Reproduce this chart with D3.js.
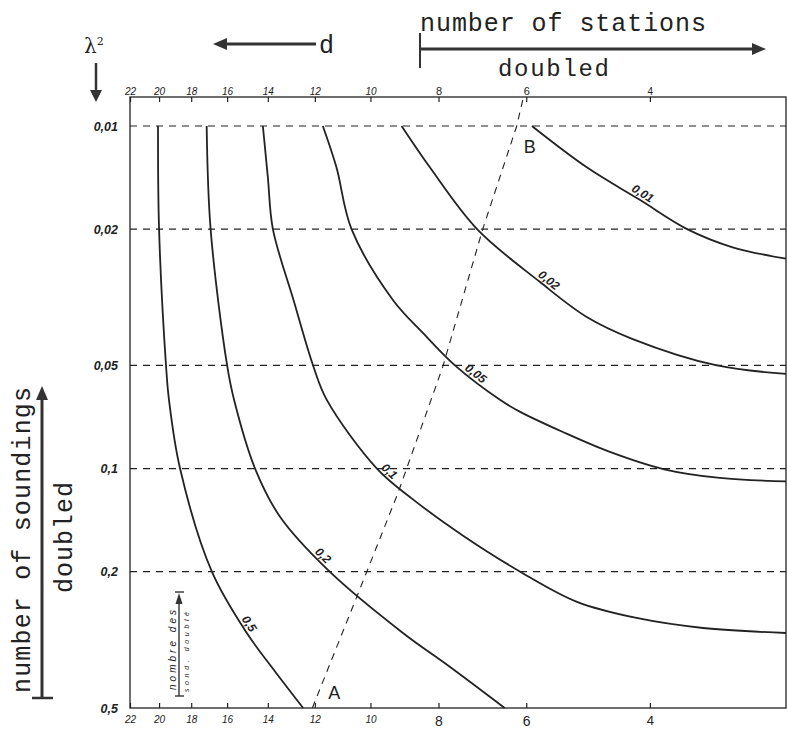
<!DOCTYPE html>
<html>
<head>
<meta charset="utf-8">
<script src="https://cdn.jsdelivr.net/npm/d3@7"></script>
<style>
  body { margin: 0; background: #fff; }
  svg { display: block; }
</style>
</head>
<body>
<div id="main"></div>
<script>
// axis values
const dTicks = [22, 20, 18, 16, 14, 12, 10, 8, 6, 4];
const lambdaTicks = [0.01, 0.02, 0.05, 0.1, 0.2, 0.5];
const lambdaLabels = ['0,01', '0,02', '0,05', '0,1', '0,2', '0,5'];

// curves as [d, lambda^2]
const curveNames = ['0,5', '0,2', '0,1', '0,05', '0,02', '0,01'];
const curve05 = [[20.07, 0.01], [20.0, 0.02], [19.55, 0.05], [19.36, 0.063], [18.67, 0.1], [16.82, 0.2],
                 [15.0, 0.302], [13.69, 0.39], [12.47, 0.5]];
const curve02 = [[17.11, 0.01], [16.89, 0.02], [16.0, 0.05], [15.64, 0.063], [14.6, 0.1], [13.46, 0.138],
                 [11.43, 0.2], [8.99, 0.302], [7.71, 0.379], [6.44, 0.5]];
const curve01 = [[14.23, 0.01], [14.0, 0.0141], [13.77, 0.02], [12.87, 0.0322], [12.07, 0.05], [11.54, 0.063],
                 [9.79, 0.1], [8.70, 0.123], [7.38, 0.157], [6.12, 0.2], [5.08, 0.245], [4.18, 0.273],
                 [3.36, 0.292], [2.56, 0.302]];
const curve005 = [[11.69, 0.01], [11.18, 0.0132], [10.64, 0.02], [9.29, 0.0322], [8.42, 0.0402], [7.58, 0.05],
                  [6.54, 0.063], [6.12, 0.0683], [5.32, 0.0782], [4.56, 0.0894], [3.83, 0.1003], [3.18, 0.1065],
                  [2.56, 0.109]];
const curve002 = [[9.03, 0.01], [8.23, 0.0132], [7.05, 0.02], [5.74, 0.0285], [4.92, 0.0361], [4.24, 0.0418],
                  [3.21, 0.05], [2.56, 0.0529]];
const curve001 = [[5.89, 0.01], [4.92, 0.0132], [4.14, 0.0164], [3.54, 0.02], [3.05, 0.0226], [2.56, 0.0244]];
const curveLabelD = [15.17, 11.87, 9.54, 7.18, 5.65, 4.14];

// dashed line A-B
const abLine = [[12.10, 0.5], [10.12, 0.2], [9.14, 0.118], [7.89, 0.0505], [6.92, 0.02], [6.19, 0.01], [6.07, 0.0084]];

const curves = [curve05, curve02, curve01, curve005, curve002, curve001];

const width = 787, height = 732;
const plotLeft = 130, plotRight = 786, plotTop = 97, plotBottom = 708;
const ink = '#222';
const hand = '"Liberation Sans", "DejaVu Sans", sans-serif';
const mono = '"Liberation Mono", "DejaVu Sans Mono", monospace';

let svg = d3.select('#main')
    .append('svg')
        .attr('width', width)
        .attr('height', height);

const x = d3.scaleLog().domain([22, 2.56]).range([plotLeft, plotRight]);
const y = d3.scaleLog().domain([0.01, 0.5]).range([126, plotBottom]);

// frame
svg.append('rect')
    .attr('x', plotLeft).attr('y', plotTop)
    .attr('width', plotRight - plotLeft).attr('height', plotBottom - plotTop)
    .attr('fill', 'none').attr('stroke', ink).attr('stroke-width', 1.3);

// dashed lambda lines
svg.selectAll('.grid')
    .data(lambdaTicks.filter(v => v < 0.5))
    .enter()
    .append('line')
        .attr('class', 'grid')
        .attr('x1', plotLeft).attr('x2', plotRight)
        .attr('y1', d => y(d)).attr('y2', d => y(d))
        .attr('stroke', ink).attr('stroke-width', 1.2)
        .attr('stroke-dasharray', '7,6');

// d axes, top and bottom, ticks inside
const tickFont = (d, big) => d >= 10 ? 10 : (d === 4 ? big - 1 : big);
const tickStyle = d => d >= 10 ? 'italic' : 'normal';

const topAxis = svg.append('g')
    .attr('transform', `translate(0,${plotTop})`)
    .call(d3.axisTop(x).tickValues(dTicks).tickSize(-5).tickSizeOuter(0).tickPadding(2).tickFormat(d3.format('d')));
const bottomAxis = svg.append('g')
    .attr('transform', `translate(0,${plotBottom})`)
    .call(d3.axisBottom(x).tickValues(dTicks).tickSize(-5).tickSizeOuter(0).tickPadding(8).tickFormat(d3.format('d')));

topAxis.selectAll('.tick text').style('font-size', d => tickFont(d, 11) + 'px');
bottomAxis.selectAll('.tick text').style('font-size', d => tickFont(d, 14) + 'px');
[topAxis, bottomAxis].forEach(g => {
    g.select('.domain').remove();
    g.selectAll('.tick line').attr('stroke', ink).attr('stroke-width', 1.2);
    g.selectAll('.tick text')
        .attr('fill', ink)
        .style('font-family', hand)
        .style('font-style', tickStyle);
});

// lambda axis labels
const leftAxis = svg.append('g')
    .attr('transform', `translate(${plotLeft},0)`)
    .call(d3.axisLeft(y).tickValues(lambdaTicks).tickSize(0).tickPadding(12)
        .tickFormat((d, i) => lambdaLabels[i]));
leftAxis.select('.domain').remove();
leftAxis.selectAll('.tick text')
    .attr('fill', ink)
    .style('font-family', hand)
    .style('font-size', '12.5px')
    .style('font-style', 'italic')
    .style('font-weight', 'bold');

// curves
const line = d3.line()
    .x(d => x(d[0]))
    .y(d => y(d[1]))
    .curve(d3.curveCatmullRom.alpha(0.5));

const paths = svg.selectAll('.curve')
    .data(curves)
    .enter()
    .append('path')
        .attr('class', 'curve')
        .attr('d', line)
        .attr('fill', 'none')
        .attr('stroke', ink)
        .attr('stroke-width', 1.8);

// curve labels along the curves
paths.each(function(c, i) {
    const node = this;
    const total = node.getTotalLength();
    const tx = x(curveLabelD[i]);
    let best = 0, bestDist = Infinity;
    for (let s = 0; s <= total; s += 1) {
        const p = node.getPointAtLength(s);
        const dist = Math.abs(p.x - tx);
        if (dist < bestDist) { bestDist = dist; best = s; }
    }
    const p = node.getPointAtLength(best);
    const p0 = node.getPointAtLength(Math.max(0, best - 4));
    const p1 = node.getPointAtLength(Math.min(total, best + 4));
    const ang = Math.atan2(p1.y - p0.y, p1.x - p0.x);
    const nx = Math.sin(ang), ny = -Math.cos(ang);
    svg.append('text')
        .attr('transform', `translate(${p.x + nx * 3},${p.y + ny * 3}) rotate(${ang * 180 / Math.PI})`)
        .attr('text-anchor', 'middle')
        .attr('fill', ink)
        .style('font-family', hand)
        .style('font-size', '12px')
        .style('font-style', 'italic')
        .style('font-weight', 'bold')
        .text(curveNames[i]);
});

// dashed A-B line
svg.append('path')
    .datum(abLine)
    .attr('d', d3.line().x(d => x(d[0])).y(d => y(d[1])))
    .attr('fill', 'none')
    .attr('stroke', ink)
    .attr('stroke-width', 1.1)
    .attr('stroke-dasharray', '7,6');

svg.append('text')
    .attr('x', x(abLine[0][0]) + 22).attr('y', plotBottom - 9)
    .attr('text-anchor', 'middle')
    .attr('fill', ink)
    .style('font-family', hand).style('font-size', '18px')
    .text('A');
svg.append('text')
    .attr('x', x(abLine[5][0]) + 13).attr('y', y(0.01) + 27)
    .attr('text-anchor', 'middle')
    .attr('fill', ink)
    .style('font-family', hand).style('font-size', '18px')
    .text('B');

// arrows
function arrowHead(tipX, tipY, dir, len, half) {
    let pts;
    if (dir === 'up') pts = [[tipX, tipY], [tipX - half, tipY + len], [tipX + half, tipY + len]];
    if (dir === 'down') pts = [[tipX, tipY], [tipX - half, tipY - len], [tipX + half, tipY - len]];
    if (dir === 'left') pts = [[tipX, tipY], [tipX + len, tipY - half], [tipX + len, tipY + half]];
    if (dir === 'right') pts = [[tipX, tipY], [tipX - len, tipY - half], [tipX - len, tipY + half]];
    svg.append('path').attr('d', 'M' + pts.join('L') + 'Z').attr('fill', '#333');
}
function seg(x1, y1, x2, y2, w) {
    svg.append('line').attr('x1', x1).attr('y1', y1).attr('x2', x2).attr('y2', y2)
        .attr('stroke', '#333').attr('stroke-width', w);
}

// lambda^2 header
const lam = svg.append('text').attr('x', 84).attr('y', 53)
    .attr('fill', ink).style('font-family', '"DejaVu Serif", serif').style('font-size', '20px');
lam.append('tspan').text('λ');
lam.append('tspan').attr('dy', -8).style('font-size', '11px').text('2');
seg(96, 63, 96, 92, 2.5);
arrowHead(96, 102, 'down', 12, 6);

// d arrow
seg(226, 44, 316, 44, 3);
arrowHead(213, 44, 'left', 14, 6);
svg.append('text').attr('x', 319).attr('y', 53)
    .attr('fill', ink).style('font-family', mono).style('font-size', '25px')
    .text('d');

// number of stations doubled
seg(420, 33, 420, 68, 2);
seg(420, 49, 754, 49, 3);
arrowHead(766, 49, 'right', 14, 6);
svg.append('text').attr('x', 420).attr('y', 31)
    .attr('textLength', 286).attr('lengthAdjust', 'spacing')
    .attr('fill', ink).style('font-family', mono).style('font-size', '25px')
    .text('number of stations');
svg.append('text').attr('x', 498).attr('y', 76)
    .attr('textLength', 111).attr('lengthAdjust', 'spacing')
    .attr('fill', ink).style('font-family', mono).style('font-size', '24px')
    .text('doubled');

// number of soundings doubled
seg(42, 698, 42, 398, 3);
seg(32, 698, 53, 698, 2.5);
arrowHead(42, 386, 'up', 14, 6);
svg.append('text').attr('transform', 'translate(30,693) rotate(-90)')
    .attr('textLength', 306).attr('lengthAdjust', 'spacing')
    .attr('fill', ink).style('font-family', mono).style('font-size', '25px')
    .text('number of soundings');
svg.append('text').attr('transform', 'translate(72,593) rotate(-90)')
    .attr('textLength', 111).attr('lengthAdjust', 'spacing')
    .attr('fill', ink).style('font-family', mono).style('font-size', '25px')
    .text('doubled');

// small inset note
seg(179, 603, 179, 696, 1.4);
seg(175, 696, 184, 696, 1.4);
seg(175, 592, 184, 592, 1.4);
arrowHead(179, 593, 'up', 11, 3.5);
svg.append('text').attr('transform', 'translate(176,690) rotate(-90)')
    .attr('textLength', 80).attr('lengthAdjust', 'spacing')
    .attr('fill', ink).style('font-family', hand).style('font-size', '10px').style('font-style', 'italic')
    .text('nombre des');
svg.append('text').attr('transform', 'translate(189,692) rotate(-90)')
    .attr('textLength', 80).attr('lengthAdjust', 'spacing')
    .attr('fill', ink).style('font-family', hand).style('font-size', '7px').style('font-style', 'italic')
    .text('sond. doublé');
</script>
</body>
</html>
